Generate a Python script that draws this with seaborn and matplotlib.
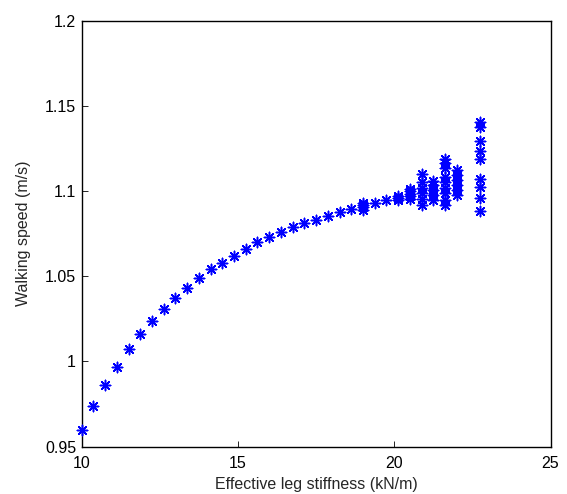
import seaborn as sns
import matplotlib.pyplot as plt
from matplotlib.ticker import FixedLocator, FixedFormatter
import pandas as pd

# stiffness (kN/m) and speed (m/s), one entry per run
stiffness = [10.0, 10.375, 10.75, 11.125, 11.5, 11.875, 12.25, 12.625, 13.0, 13.375,
             13.75, 14.125, 14.5, 14.875, 15.25, 15.625, 16.0, 16.375, 16.75, 17.125,
             17.5, 17.875, 18.25, 18.625,
             19.0, 19.0, 19.0, 19.0,
             19.375, 19.75,
             20.125, 20.125, 20.125,
             20.5, 20.5, 20.5, 20.5, 20.5,
             20.875, 20.875, 20.875, 20.875, 20.875, 20.875,
             21.25, 21.25, 21.25, 21.25, 21.25,
             21.625, 21.625, 21.625, 21.625, 21.625, 21.625, 21.625, 21.625, 21.625,
             22.0, 22.0, 22.0, 22.0, 22.0, 22.0,
             22.75, 22.75, 22.75, 22.75, 22.75, 22.75, 22.75, 22.75, 22.75]
speed = [0.960, 0.974, 0.986, 0.997, 1.007, 1.016, 1.0235, 1.031, 1.037, 1.043,
         1.049, 1.054, 1.058, 1.062, 1.066, 1.070, 1.073, 1.076, 1.079, 1.081,
         1.083, 1.0856, 1.0875, 1.0893,
         1.089, 1.0905, 1.092, 1.093,
         1.093, 1.0945,
         1.095, 1.096, 1.097,
         1.0955, 1.097, 1.0985, 1.100, 1.1015,
         1.092, 1.0955, 1.099, 1.102, 1.1055, 1.110,
         1.095, 1.0977, 1.1007, 1.1036, 1.106,
         1.092, 1.095, 1.0987, 1.102, 1.1055, 1.1085, 1.1134, 1.1163, 1.119,
         1.0977, 1.1007, 1.1036, 1.1065, 1.1095, 1.1124,
         1.0884, 1.0958, 1.1022, 1.1069, 1.1187, 1.1237, 1.1296, 1.1374, 1.1407]

x_ticks = [10, 15, 20, 25]
y_ticks = [0.95, 1.0, 1.05, 1.1, 1.15, 1.2]
y_tick_labels = ['0.95', '1', '1.05', '1.1', '1.15', '1.2']

df = pd.DataFrame({'stiffness': stiffness, 'speed': speed})

sns.set_style('white')
plt.rcParams['font.family'] = ['Liberation Sans', 'DejaVu Sans']

fig = plt.figure(figsize=(5.67, 4.94), dpi=100)
ax = fig.add_axes([0.144, 0.096, 0.827, 0.862])

sns.scatterplot(data=df, x='stiffness', y='speed', ax=ax, marker=(8, 2, 0),
                s=55, color='#0000ff', linewidth=1.1, edgecolor='#0000ff',
                legend=False, clip_on=False, zorder=3)

ax.set_xlim(10, 25)
ax.set_ylim(0.95, 1.2)
ax.xaxis.set_major_locator(FixedLocator(x_ticks))
ax.yaxis.set_major_locator(FixedLocator(y_ticks))
ax.yaxis.set_major_formatter(FixedFormatter(y_tick_labels))
ax.tick_params(direction='in', length=4, width=0.6, labelsize=11.5, colors='black',
               top=False, right=False, left=True, bottom=True)
ax.tick_params(axis='x', pad=7)
ax.tick_params(axis='y', pad=4)
for sp in ax.spines.values():
    sp.set_color('black')
    sp.set_linewidth(1.0)

ax.set_xlabel('Effective leg stiffness (kN/m)', fontsize=11.5, labelpad=4)
ax.set_ylabel('Walking speed (m/s)', fontsize=11.5, labelpad=10)

plt.savefig('out.png', dpi=100)
